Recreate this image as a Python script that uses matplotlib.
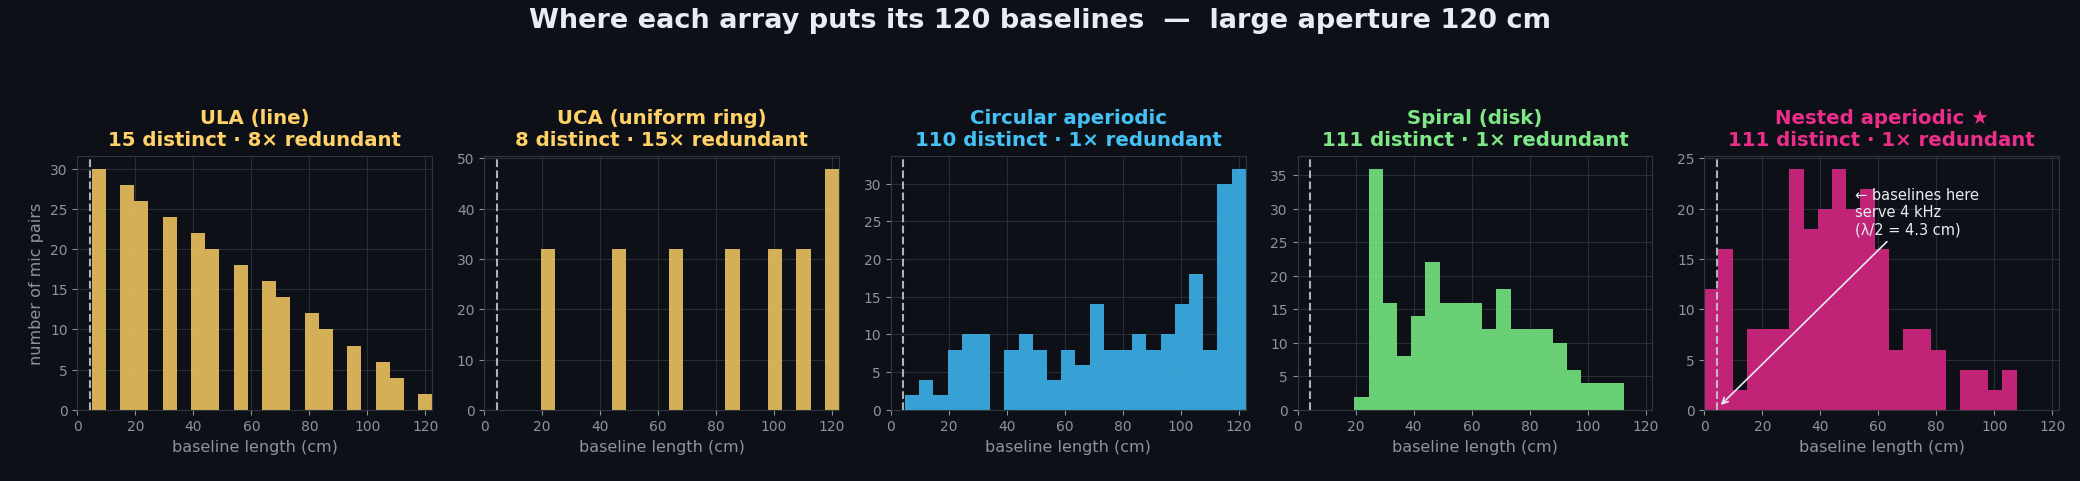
import numpy as np
import matplotlib
matplotlib.use("Agg")
import matplotlib.pyplot as plt

# shared histogram bins (cm), 25 bins over the 120 cm aperture
bin_edges = np.linspace(0, 122.4, 26)
half_wavelength_cm = 4.29  # lambda/2 at 4 kHz

# mic-pair counts per bin
ula_counts = [0, 30, 0, 28, 26, 0, 24, 0, 22, 20, 0, 18, 0, 16, 14, 0, 12, 10, 0, 8, 0, 6, 4, 0, 2]
uca_counts = [0, 0, 0, 0, 32, 0, 0, 0, 0, 32, 0, 0, 0, 32, 0, 0, 0, 32, 0, 0, 32, 0, 32, 0, 48]
circ_counts = [0, 2, 4, 2, 8, 10, 10, 0, 8, 10, 8, 4, 8, 6, 14, 8, 8, 10, 8, 10, 14, 18, 8, 30, 32]
spiral_counts = [0, 0, 0, 0, 2, 36, 16, 8, 14, 22, 16, 16, 16, 12, 18, 12, 12, 12, 10, 6, 4, 4, 4, 0, 0]
nested_counts = [12, 16, 2, 8, 8, 8, 24, 18, 20, 24, 20, 22, 16, 6, 8, 8, 6, 0, 4, 4, 2, 4, 0, 0, 0]

names = ["ULA (line)", "UCA (uniform ring)", "Circular aperiodic", "Spiral (disk)", "Nested aperiodic \u2605"]
distinct = [15, 8, 110, 111, 111]
redundant = [8, 15, 1, 1, 1]
title_colors = ["#ffd166", "#ffd166", "#45c2f5", "#7ee787", "#ec2d8a"]
bar_colors = ["#e0b95c", "#e0b95c", "#3aa9df", "#6fdb7a", "#cc267c"]
all_counts = [ula_counts, uca_counts, circ_counts, spiral_counts, nested_counts]

BG = "#0d1117"
GRID = "#30363d"
MUTED = "#8b949e"
TEXT = "#e6edf3"

fig, axs = plt.subplots(1, 5, figsize=(20.8, 4.815), dpi=100)
fig.patch.set_facecolor(BG)
fig.subplots_adjust(left=0.0372, right=0.990, top=0.674, bottom=0.1476, wspace=0.146)

widths = np.diff(bin_edges)
for i, ax in enumerate(axs):
    ax.set_facecolor(BG)
    ax.bar(bin_edges[:-1], all_counts[i], width=widths, align="edge",
           color=bar_colors[i], alpha=0.95, linewidth=0)
    ax.axvline(half_wavelength_cm, color="#c9d1d9", ls="--", lw=1.5, alpha=0.85)
    ax.set_xlim(bin_edges[0], bin_edges[-1])
    ax.set_xticks([0, 20, 40, 60, 80, 100, 120])
    ax.set_axisbelow(True)
    ax.grid(True, color=GRID, lw=0.8, alpha=0.8)
    for s in ax.spines.values():
        s.set_color(GRID)
    ax.tick_params(colors=MUTED, labelsize=10, length=3.5)
    ax.set_xlabel("baseline length (cm)", color=MUTED, fontsize=11.5)
    ax.set_title(f"{names[i]}\n{distinct[i]} distinct \u00b7 {redundant[i]}\u00d7 redundant",
                 color=title_colors[i], fontsize=14.2, fontweight="bold", pad=8)

axs[0].set_ylabel("number of mic pairs", color=MUTED, fontsize=11.5)

axs[4].annotate("\u2190 baselines here\nserve 4 kHz\n(\u03bb/2 = 4.3 cm)",
                xy=(5, 0.3), xytext=(52, 17.2), ha="left", va="bottom",
                color=TEXT, fontsize=10.5,
                arrowprops=dict(arrowstyle="->", color=TEXT, lw=1.2))

fig.suptitle("Where each array puts its 120 baselines  \u2014  large aperture 120 cm",
             color=TEXT, fontsize=19.5, fontweight="bold", y=0.956, va="center")

fig.savefig("out.png", facecolor=BG)
